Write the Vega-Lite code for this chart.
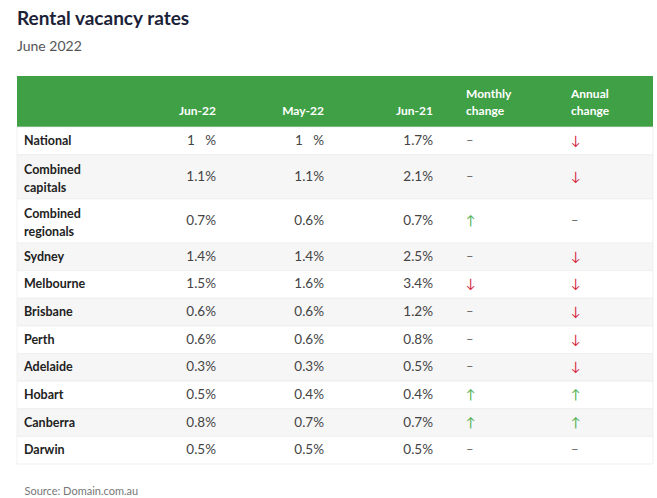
{
  "$schema": "https://vega.github.io/schema/vega-lite/v6.json",
  "width": 636,
  "height": 388,
  "padding": {"left": 16, "right": 5, "top": 10, "bottom": 0},
  "background": "#ffffff",
  "title": {
    "text": "Rental vacancy rates",
    "subtitle": "June 2022",
    "anchor": "start",
    "frame": "group",
    "font": "Lato",
    "fontSize": 19,
    "fontWeight": "bold",
    "color": "#1b2238",
    "subtitleFont": "Lato",
    "subtitleFontSize": 14,
    "subtitleColor": "#555555",
    "subtitlePadding": 11,
    "offset": 22
  },
  "config": {
    "view": {"stroke": null},
    "font": "Lato",
    "text": {"font": "Lato"}
  },
  "data": {
    "values": [
      {"region": "National", "jun22": "1\u00a0\u00a0\u00a0%", "may22": "1\u00a0\u00a0\u00a0%", "jun21": "1.7%", "monthly": "–", "annual": "↓"},
      {"region": "Combined\ncapitals", "jun22": "1.1%", "may22": "1.1%", "jun21": "2.1%", "monthly": "–", "annual": "↓"},
      {"region": "Combined\nregionals", "jun22": "0.7%", "may22": "0.6%", "jun21": "0.7%", "monthly": "↑", "annual": "–"},
      {"region": "Sydney", "jun22": "1.4%", "may22": "1.4%", "jun21": "2.5%", "monthly": "–", "annual": "↓"},
      {"region": "Melbourne", "jun22": "1.5%", "may22": "1.6%", "jun21": "3.4%", "monthly": "↓", "annual": "↓"},
      {"region": "Brisbane", "jun22": "0.6%", "may22": "0.6%", "jun21": "1.2%", "monthly": "–", "annual": "↓"},
      {"region": "Perth", "jun22": "0.6%", "may22": "0.6%", "jun21": "0.8%", "monthly": "–", "annual": "↓"},
      {"region": "Adelaide", "jun22": "0.3%", "may22": "0.3%", "jun21": "0.5%", "monthly": "–", "annual": "↓"},
      {"region": "Hobart", "jun22": "0.5%", "may22": "0.4%", "jun21": "0.4%", "monthly": "↑", "annual": "↑"},
      {"region": "Canberra", "jun22": "0.8%", "may22": "0.7%", "jun21": "0.7%", "monthly": "↑", "annual": "↑"},
      {"region": "Darwin", "jun22": "0.5%", "may22": "0.5%", "jun21": "0.5%", "monthly": "–", "annual": "–"}
    ]
  },
  "transform": [
    {"calculate": "indexof(datum.region, '\\n') >= 0 ? 1 : 0", "as": "extra"},
    {"calculate": "1 + 0.6 * datum.extra", "as": "h"},
    {"window": [{"op": "row_number", "as": "idx"}, {"op": "sum", "field": "h", "as": "cum"}], "frame": [null, 0]},
    {"calculate": "1.85 + datum.cum", "as": "y1"},
    {"calculate": "datum.y1 - datum.h", "as": "y0"},
    {"calculate": "(datum.y0 + datum.y1) / 2", "as": "ym"},
    {"calculate": "datum.ym - 0.24 * datum.extra", "as": "ylab"}
  ],
  "encoding": {
    "x": {
      "type": "quantitative",
      "scale": {"domain": [0, 1, 2, 3, 4, 5], "range": [7, 199, 307, 416, 449, 554], "nice": false, "zero": false},
      "axis": {
        "title": "Source: Domain.com.au",
        "labels": false,
        "ticks": false,
        "domain": false,
        "grid": false,
        "titleAnchor": "start",
        "titleAlign": "left",
        "titleBaseline": "top",
        "titleFont": "Lato",
        "titleFontSize": 11,
        "titleFontWeight": "normal",
        "titleColor": "#777777",
        "titlePadding": 21
      }
    },
    "y": {
      "type": "quantitative",
      "scale": {"domain": [0, 14.05], "reverse": true, "nice": false, "zero": false},
      "axis": null
    }
  },
  "layer": [
    {
      "data": {"values": [{"part": "header"}]},
      "mark": {"type": "rect", "fill": "#40a046"},
      "encoding": {
        "y": {"datum": 0, "type": "quantitative"},
        "y2": {"datum": 1.85}
      }
    },
    {
      "mark": {"type": "rect", "stroke": "#ededed", "strokeWidth": 0.8},
      "encoding": {
        "y": {"field": "y0", "type": "quantitative"},
        "y2": {"field": "y1"},
        "fill": {
          "condition": {"test": "datum.idx % 2 == 0", "value": "#f6f6f6"},
          "value": "#ffffff"
        }
      }
    },
    {
      "data": {
        "values": [
          {"key": "jun22", "label": "Jun-22"},
          {"key": "may22", "label": "May-22"},
          {"key": "jun21", "label": "Jun-21"}
        ]
      },
      "transform": [
        {"calculate": "indexof(['region','jun22','may22','jun21','monthly','annual'], datum.key)", "as": "ci"}
      ],
      "mark": {"type": "text", "align": "right", "baseline": "bottom", "fontSize": 12, "fontWeight": "bold", "color": "#ffffff"},
      "encoding": {
        "x": {"field": "ci", "type": "quantitative"},
        "y": {"datum": 1.52, "type": "quantitative"},
        "text": {"field": "label"}
      }
    },
    {
      "data": {
        "values": [
          {"key": "monthly", "label": "Monthly\nchange"},
          {"key": "annual", "label": "Annual\nchange"}
        ]
      },
      "transform": [
        {"calculate": "indexof(['region','jun22','may22','jun21','monthly','annual'], datum.key)", "as": "ci"}
      ],
      "mark": {"type": "text", "align": "left", "baseline": "bottom", "fontSize": 12, "fontWeight": "bold", "color": "#ffffff", "lineBreak": "\n", "lineHeight": 17},
      "encoding": {
        "x": {"field": "ci", "type": "quantitative"},
        "y": {"datum": 0.904, "type": "quantitative"},
        "text": {"field": "label"}
      }
    },
    {
      "mark": {"type": "text", "align": "left", "baseline": "middle", "fontSize": 12.5, "fontWeight": "bold", "color": "#222222", "lineBreak": "\n", "lineHeight": 18},
      "encoding": {
        "x": {"datum": 0, "type": "quantitative"},
        "y": {"field": "ylab", "type": "quantitative"},
        "text": {"field": "region"}
      }
    },
    {
      "transform": [
        {"fold": ["jun22", "may22", "jun21"], "as": ["key", "val"]},
        {"calculate": "indexof(['region','jun22','may22','jun21','monthly','annual'], datum.key)", "as": "ci"}
      ],
      "mark": {"type": "text", "align": "right", "baseline": "middle", "fontSize": 13.5, "color": "#444444"},
      "encoding": {
        "x": {"field": "ci", "type": "quantitative"},
        "y": {"field": "ym", "type": "quantitative"},
        "text": {"field": "val"}
      }
    },
    {
      "transform": [
        {"fold": ["monthly", "annual"], "as": ["key", "val"]},
        {"calculate": "indexof(['region','jun22','may22','jun21','monthly','annual'], datum.key)", "as": "ci"}
      ],
      "mark": {"type": "text", "align": "left", "baseline": "middle", "fontSize": 13},
      "encoding": {
        "x": {"field": "ci", "type": "quantitative"},
        "y": {"field": "ym", "type": "quantitative"},
        "text": {"field": "val"},
        "color": {
          "condition": [
            {"test": "datum.val == '↓'", "value": "#d7263d"},
            {"test": "datum.val == '↑'", "value": "#4caf50"}
          ],
          "value": "#666666"
        }
      }
    }
  ]
}
